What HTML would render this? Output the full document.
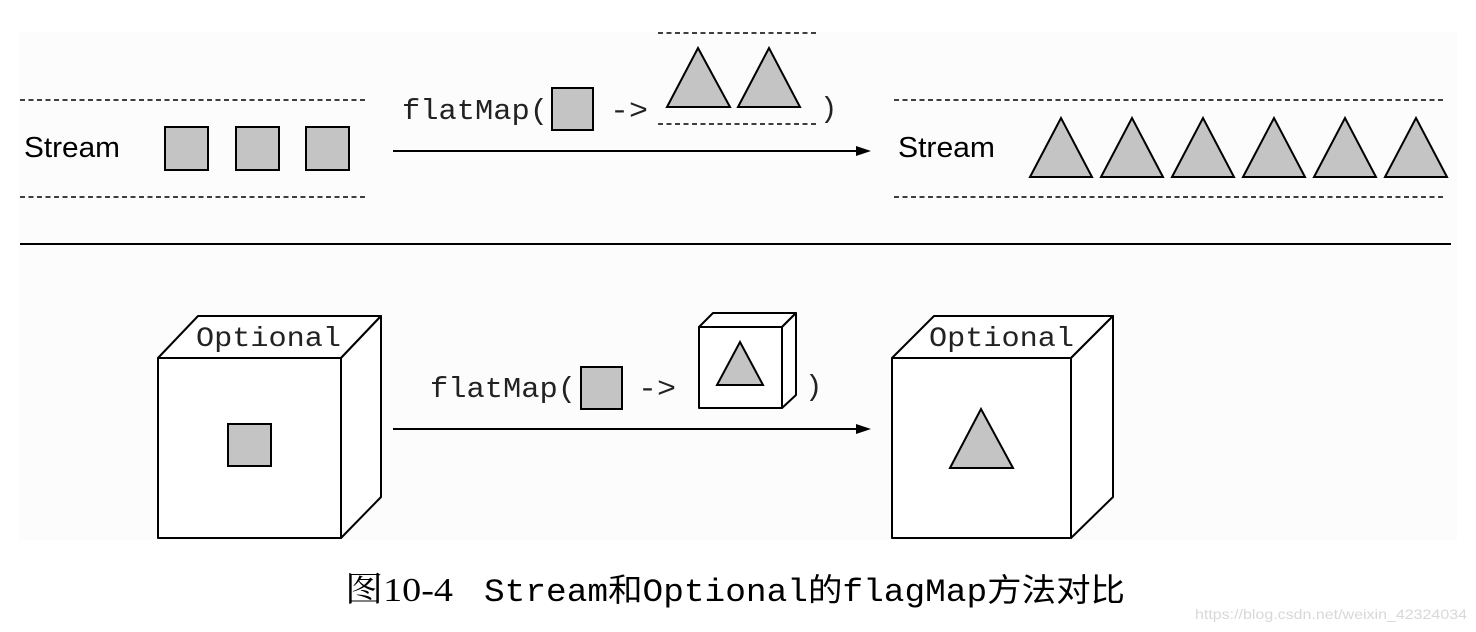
<!DOCTYPE html>
<html><head><meta charset="utf-8"><style>
html,body{margin:0;padding:0;background:#fff;}
svg{display:block;}
</style></head><body>
<svg width="1476" height="632" viewBox="0 0 1476 632" xmlns="http://www.w3.org/2000/svg">
<rect x="19" y="32" width="1438" height="508" fill="#fcfcfc"/>
<g stroke="#000" stroke-width="1.6" stroke-dasharray="5,3.5" fill="none">
<line x1="20" y1="100" x2="365" y2="100"/>
<line x1="20" y1="197" x2="365" y2="197"/>
<line x1="658" y1="33" x2="817" y2="33"/>
<line x1="658" y1="124" x2="817" y2="124"/>
<line x1="894" y1="100" x2="1445" y2="100"/>
<line x1="894" y1="197" x2="1445" y2="197"/>
</g>
<line x1="20" y1="244" x2="1451" y2="244" stroke="#000" stroke-width="2"/>
<g fill="#c4c4c4" stroke="#000" stroke-width="2">
<rect x="165" y="127" width="43" height="43"/>
<rect x="236" y="127" width="43" height="43"/>
<rect x="306" y="127" width="43" height="43"/>
<rect x="552" y="88" width="41" height="42"/>
<polygon points="667,107 698,48 730,107"/>
<polygon points="738,107 769,48 800,107"/>
<polygon points="1030,177 1061,118 1092,177"/>
<polygon points="1101,177 1132,118 1163,177"/>
<polygon points="1172,177 1203,118 1234,177"/>
<polygon points="1243,177 1274,118 1305,177"/>
<polygon points="1314,177 1345,118 1376,177"/>
<polygon points="1385,177 1416,118 1447,177"/>
</g>
<g font-family="Liberation Sans, sans-serif" font-size="29" fill="#000">
<text x="24" y="157" textLength="96" lengthAdjust="spacingAndGlyphs">Stream</text>
<text x="898" y="157" textLength="97" lengthAdjust="spacingAndGlyphs">Stream</text>
</g>
<g font-family="Liberation Mono, monospace" font-size="29" fill="#222">
<text x="402" y="119" textLength="146" lengthAdjust="spacingAndGlyphs">flatMap(</text>
<text x="610" y="119" textLength="38" lengthAdjust="spacingAndGlyphs">-&gt;</text>
<text x="820" y="117">)</text>
<text x="430" y="397" textLength="146" lengthAdjust="spacingAndGlyphs">flatMap(</text>
<text x="638" y="397" textLength="38" lengthAdjust="spacingAndGlyphs">-&gt;</text>
<text x="805" y="395">)</text>
</g>
<g stroke="#000" stroke-width="2">
<line x1="393" y1="151" x2="858" y2="151"/>
<line x1="393" y1="429" x2="858" y2="429"/>
</g>
<polygon points="856,146 871,151 856,156" fill="#000"/>
<polygon points="856,424 871,429 856,434" fill="#000"/>
<g fill="#fff" stroke="#000" stroke-width="2" stroke-linejoin="round">
<polygon points="158,358 198,316 381,316 341,358"/>
<polygon points="341,358 381,316 381,497 341,538"/>
<rect x="158" y="358" width="183" height="180"/>
<polygon points="892,358 934,316 1113,316 1071,358"/>
<polygon points="1071,358 1113,316 1113,497 1071,538"/>
<rect x="892" y="358" width="179" height="180"/>
<polygon points="699,327 713,313 796,313 782,327"/>
<polygon points="782,327 796,313 796,395 782,408"/>
<rect x="699" y="327" width="83" height="81"/>
</g>
<g font-family="Liberation Mono, monospace" font-size="28" fill="#222">
<text x="196" y="346" textLength="145" lengthAdjust="spacingAndGlyphs">Optional</text>
<text x="929" y="346" textLength="145" lengthAdjust="spacingAndGlyphs">Optional</text>
</g>
<g fill="#c4c4c4" stroke="#000" stroke-width="2">
<rect x="228" y="424" width="43" height="42"/>
<rect x="581" y="367" width="41" height="42"/>
<polygon points="717,385 740,342 763,385"/>
<polygon points="950,468 981,409 1013,468"/>
</g>
<text x="345" y="601" font-family="Liberation Serif, 'Noto Serif CJK SC', serif" font-size="34" fill="#000" textLength="108" lengthAdjust="spacingAndGlyphs">图10-4</text>
<text x="484" y="601" font-family="Liberation Mono, 'Noto Sans CJK SC', monospace" font-size="32" fill="#000" textLength="641" lengthAdjust="spacingAndGlyphs">Stream和Optional的flagMap方法对比</text>
<text x="1195" y="619" font-family="Liberation Sans, sans-serif" font-size="14" fill="#d8d8d8" textLength="272" lengthAdjust="spacingAndGlyphs">https://blog.csdn.net/weixin_42324034</text>
</svg>
</body></html>
